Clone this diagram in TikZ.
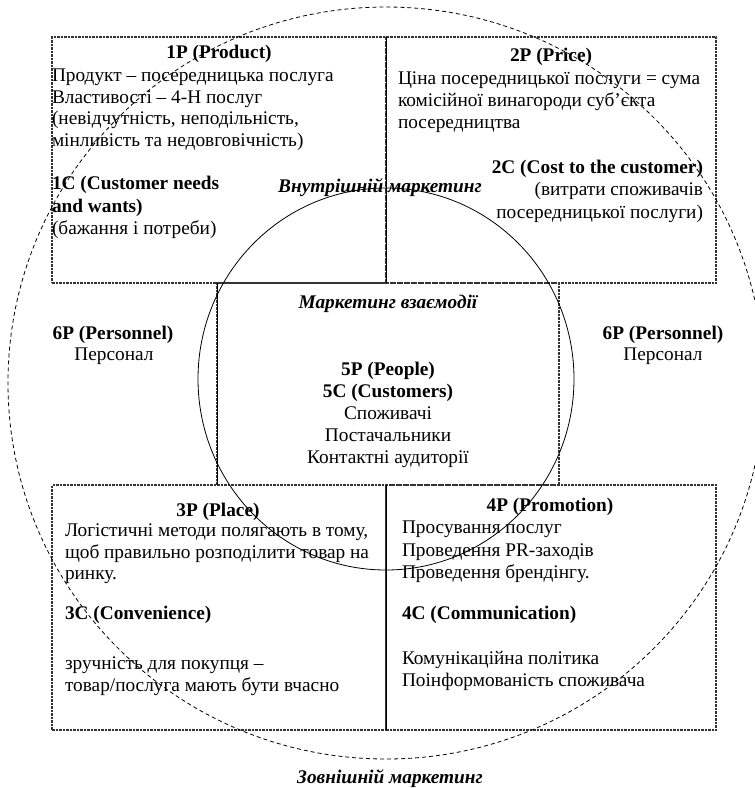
\documentclass[tikz,border=0pt]{standalone}
\usepackage{fontspec}
\setmainfont{Liberation Serif}
\usetikzlibrary{shapes.geometric}
\begin{document}
\begin{tikzpicture}[x=1pt,y=-1pt,
  every node/.style={inner sep=0pt, outer sep=0pt},
  txt/.style={font=\fontsize{19.3}{22}\selectfont, anchor=base west},
  txtc/.style={font=\fontsize{19.3}{22}\selectfont, anchor=base},
  txtr/.style={font=\fontsize{19.3}{22}\selectfont, anchor=base east},
  hd/.style={font=\fontsize{19.3}{22}\selectfont\bfseries, anchor=base},
  hdl/.style={font=\fontsize{19.3}{22}\selectfont\bfseries, anchor=base west},
  hdr/.style={font=\fontsize{19.3}{22}\selectfont\bfseries, anchor=base east},
  lbl/.style={font=\fontsize{19.3}{22}\selectfont\bfseries\itshape, anchor=base},
  bx/.style={draw=black!80, line width=1.1pt, dash pattern=on 2.5pt off 1pt, rectangle},
  solidline/.style={draw=black, line width=1pt},
  outerc/.style={draw=black, line width=0.8pt, dash pattern=on 4pt off 3pt, ellipse},
  innerc/.style={draw=black, line width=0.8pt, ellipse}
]
\useasboundingbox (0,0) rectangle (755,788);

% boxes
\node[bx, minimum width=334pt, minimum height=246pt] (tl) at (219,160) {};
\node[bx, minimum width=330pt, minimum height=246pt] (tr) at (551,160) {};
\node[bx, minimum width=342pt, minimum height=202pt] (mid) at (388,384) {};
\node[bx, minimum width=334pt, minimum height=245pt] (bl) at (219,607.5) {};
\node[bx, minimum width=330pt, minimum height=245pt] (br) at (551,607.5) {};
\draw[solidline] (tl.north east) -- (tl.south east);
\draw[solidline] (bl.north east) -- (bl.south east);
\draw[solidline] (mid.north west) -- (mid.south west);

% circles
\node[innerc, minimum width=376pt, minimum height=382pt] (inner) at (386,379) {};
\node[outerc, minimum width=756pt, minimum height=752pt] (outer) at (386,383) {};

% top-left
\node[hd] (p1) at (219,58) {1P (Product)};
\node[txt] (p1a) at (52,81) {Продукт – посередницька послуга};
\node[txt] (p1b) at (52,103) {Властивості – 4-Н послуг};
\node[txt] (p1c) at (52,124) {(невідчутність, неподільність,};
\node[txt] (p1d) at (52,146) {мінливість та недовговічність)};
\node[hdl] (c1) at (52,189) {1C (Customer needs};
\node[hdl] (c1b) at (52,212) {and wants)};
\node[txt] (c1c) at (52,234) {(бажання і потреби)};

% top-right
\node[hd] (p2) at (551,61) {2P (Price)};
\node[txt] (p2a) at (398,84) {Ціна посередницької послуги = сума};
\node[txt] (p2b) at (398,106) {комісійної винагороди суб’єкта};
\node[txt] (p2c) at (398,128) {посередництва};
\node[hdr] (c2) at (703,173) {2C (Cost to the customer)};
\node[txtr] (c2a) at (703,195) {(витрати споживачів};
\node[txtr] (c2b) at (703,218) {посередницької послуги)};

\node[lbl] (inmk) at (380,192) {Внутрішній маркетинг};

% middle
\node[lbl] (vzmk) at (388,308) {Маркетинг взаємодії};
\node[hd] (p5) at (388,375) {5P (People)};
\node[hd] (c5) at (388,397) {5C (Customers)};
\node[txtc] (m1) at (388,419) {Споживачі};
\node[txtc] (m2) at (388,441) {Постачальники};
\node[txtc] (m3) at (388,463) {Контактні аудиторії};

\node[hd] (p6l) at (113,339) {6P (Personnel)};
\node[txtc] (p6la) at (114,360) {Персонал};
\node[hd] (p6r) at (663,339) {6P (Personnel)};
\node[txtc] (p6ra) at (663,360) {Персонал};

% bottom-left
\node[hd] (p3) at (218,516) {3P (Place)};
\node[txt] (p3a) at (65,536) {Логістичні методи полягають в тому,};
\node[txt] (p3b) at (65,558) {щоб правильно розподілити товар на};
\node[txt] (p3c) at (65,579) {ринку.};
\node[hdl] (c3) at (65,619) {3C (Convenience)};
\node[txt] (c3a) at (65,669) {зручність для покупця –};
\node[txt] (c3b) at (65,691) {товар/послуга мають бути вчасно};

% bottom-right
\node[hd] (p4) at (550,511) {4P (Promotion)};
\node[txt] (p4a) at (402,533) {Просування послуг};
\node[txt] (p4b) at (402,556) {Проведення PR-заходів};
\node[txt] (p4c) at (402,578) {Проведення брендінгу.};
\node[hdl] (c4) at (402,619) {4C (Communication)};
\node[txt] (c4a) at (402,664) {Комунікаційна політика};
\node[txt] (c4b) at (402,686) {Поінформованість споживача};

\node[lbl] (exmk) at (390,783) {Зовнішній маркетинг};
\end{tikzpicture}
\end{document}
